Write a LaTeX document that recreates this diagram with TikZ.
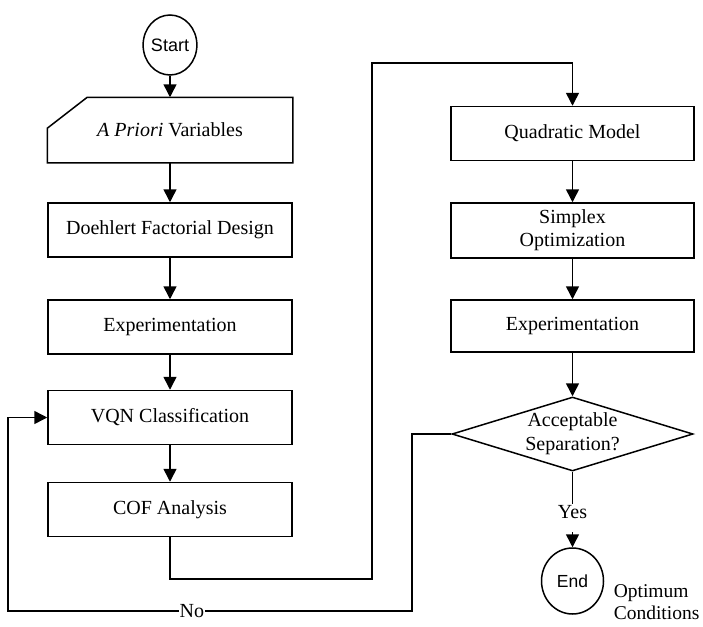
\documentclass[tikz,border=0pt]{standalone}
\usepackage{fontspec}
\setmainfont{Liberation Serif}
\newfontfamily\sansf{Liberation Sans}
\usetikzlibrary{arrows.meta,shapes.geometric}
\begin{document}
\begin{tikzpicture}[x=1pt,y=-1pt,
  line width=1.5pt,
  every node/.style={font=\fontsize{20}{24}\selectfont},
  procbox/.style={draw, rectangle, minimum width=244pt, minimum height=54pt, inner sep=2pt, align=center},
  rprocbox/.style={draw, rectangle, minimum width=243pt, minimum height=54pt, inner sep=2pt, align=center},
  termnode/.style={draw, ellipse, inner sep=0pt, font=\sansf\fontsize{18}{20}\selectfont},
  arr/.style={-{Triangle[length=13pt,width=13pt]}}
]
\useasboundingbox (0,0) rectangle (703,626);

% left column
\node[termnode, minimum width=52pt, minimum height=60pt] (start) at (170,45) {Start};
\node[rectangle, minimum width=244pt, minimum height=64pt, inner sep=0pt] (apriori) at (170,130) {\textit{A Priori} Variables};
\draw ([yshift=-31pt]apriori.north west) -- ([xshift=40pt]apriori.north west) -- (apriori.north east) -- (apriori.south east) -- (apriori.south west) -- cycle;
\node[procbox] (doe) at (170,230) {Doehlert Factorial Design};
\node[procbox] (exp1) at (170,327) {Experimentation};
\node[procbox] (vqn) at (170,417.5) {VQN Classification};
\node[procbox] (cof) at (170,509.5) {COF Analysis};

% right column
\node[rprocbox] (qm) at (572.5,133.5) {Quadratic Model};
\node[rprocbox, minimum height=55pt] (simp) at (572.5,230.5) {Simplex\\[-1pt]Optimization};
\node[rprocbox, minimum height=52pt] (exp2) at (572.5,326) {Experimentation};
\node[draw, diamond, minimum width=241pt, minimum height=74pt, inner sep=0pt] (dec) at (572.5,434) {};
\node[align=center, font=\fontsize{20}{24}\selectfont] (dectext) at (dec.center) {Acceptable\\Separation?};
\node[inner sep=1pt] (yes) at (572.5,512) {Yes};
\node[termnode, minimum width=62pt, minimum height=66pt, font=\sansf\fontsize{17.5}{20}\selectfont] (end) at (572.5,581) {End};
\node[anchor=west, align=left, inner sep=0pt, font=\fontsize{19.5}{22}\selectfont] (opt) at (613,602) {Optimum\\Conditions};

% connectors
\draw[arr] (start) -- (apriori.north);
\draw[arr] (apriori) -- (doe);
\draw[arr] (doe) -- (exp1);
\draw[arr] (exp1) -- (vqn);
\draw[arr] (vqn) -- (cof);
\draw[arr] (qm) -- (simp);
\draw[arr] (simp) -- (exp2);
\draw[arr] (exp2) -- (dec.north);
\draw (dec.south) -- (yes.north);
\draw[arr] ([yshift=-12pt]yes.south) -- (end.north);

\coordinate (k1) at (372,579);
\coordinate (k2) at (372,63);
\draw[arr] (cof.south) |- (k1) -- (k2) -| (qm.north);

\coordinate (k3) at (412,611);
\coordinate (k4) at (8,611);
\draw[arr] (dec.west) -| (k3) -- node[pos=0.545, fill=white, inner sep=1pt] (no) {No} (k4) |- (vqn.west);
\end{tikzpicture}
\end{document}
